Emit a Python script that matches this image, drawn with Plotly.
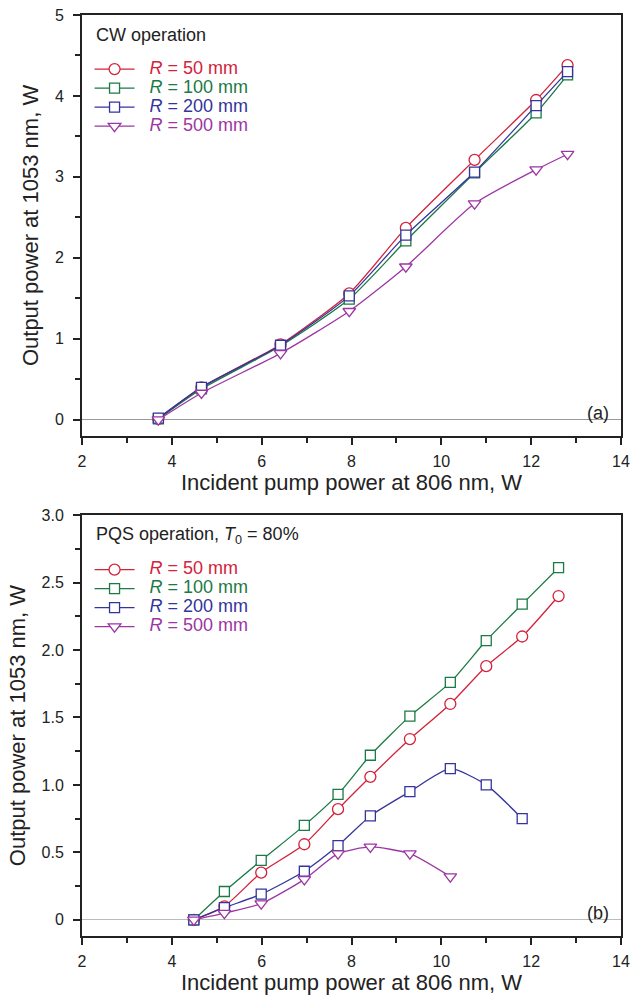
import plotly.graph_objects as go

# ---------------- data ----------------
# Panel (a): CW operation
cw_pump = [3.70, 4.66, 6.42, 7.95, 9.21, 10.74, 12.11, 12.81]
cw_r50 = [0.01, 0.40, 0.93, 1.56, 2.37, 3.21, 3.95, 4.38]
cw_r100 = [0.01, 0.38, 0.91, 1.49, 2.21, 3.05, 3.79, 4.26]
cw_r200 = [0.02, 0.40, 0.92, 1.53, 2.28, 3.06, 3.88, 4.30]
cw_r500 = [0.00, 0.33, 0.82, 1.34, 1.89, 2.67, 3.09, 3.28]

# Panel (b): PQS operation, T0 = 80%
pqs_pump = [4.49, 5.17, 5.99, 6.95, 7.70, 8.42, 9.30, 10.20, 11.00, 11.80, 12.61]
pqs_r50 = [0.00, 0.10, 0.35, 0.56, 0.82, 1.06, 1.34, 1.60, 1.88, 2.10, 2.40]
pqs_r100 = [0.00, 0.21, 0.44, 0.70, 0.93, 1.22, 1.51, 1.76, 2.07, 2.34, 2.61]
pqs_r200 = [0.00, 0.09, 0.19, 0.36, 0.55, 0.77, 0.95, 1.12, 1.00, 0.75]
pqs_r500 = [0.00, 0.05, 0.12, 0.30, 0.49, 0.54, 0.49, 0.32]

series_names = ["<i>R</i> = 50 mm", "<i>R</i> = 100 mm", "<i>R</i> = 200 mm", "<i>R</i> = 500 mm"]
colors = ["#d3223a", "#1b7a46", "#34349c", "#9c36a2"]
symbols = ["circle", "square", "square", "triangle-down"]
msizes = [11, 10, 10, 11]

top_y_ticks = [0, 1, 2, 3, 4, 5]
bot_y_ticks = [0, 0.5, 1.0, 1.5, 2.0, 2.5, 3.0]
bot_y_text = ["0", "0.5", "1.0", "1.5", "2.0", "2.5", "3.0"]
x_ticks = [2, 4, 6, 8, 10, 12, 14]

FONT = "Liberation Sans, Arial, sans-serif"

fig = go.Figure()

def add_panel(xs, ys_list, xa, ya, legend):
    for i, ys in enumerate(ys_list):
        fig.add_trace(go.Scatter(
            x=xs[:len(ys)], y=ys, xaxis=xa, yaxis=ya,
            mode="lines+markers",
            name=f"<span style='color:{colors[i]};font-size:18px'>&nbsp;&nbsp;{series_names[i]}</span>",
            legend=legend,
            line=dict(color=colors[i], width=1.3, shape="spline", smoothing=0.6),
            marker=dict(symbol=symbols[i], size=msizes[i], color="white",
                        line=dict(color=colors[i], width=1.3)),
        ))

add_panel(cw_pump, [cw_r50, cw_r100, cw_r200, cw_r500], "x", "y", "legend")
add_panel(pqs_pump, [pqs_r50, pqs_r100, pqs_r200, pqs_r500], "x2", "y2", "legend2")

axis_common = dict(
    showline=True, linecolor="#222", linewidth=2, mirror=True,
    ticks="outside", ticklen=7, tickwidth=1.5, tickcolor="#222",
    showgrid=False, automargin=False, ticklabeloverflow="allow",
    tickfont=dict(family=FONT, size=16, color="#222"),
    title_font=dict(family=FONT, size=22, color="#222"),
)

xaxis_cfg = dict(axis_common, range=[2, 14], tickvals=x_ticks,
                 minor=dict(ticks="outside", dtick=1, ticklen=5, tickwidth=1.5, tickcolor="#222"),
                 zeroline=False, ticklabelstandoff=3,
                 title=dict(text="Incident pump power at 806 nm, W", standoff=1))

yaxis_extra = dict(ticklabelstandoff=6,
                   title=dict(text="Output power at 1053 nm, W", standoff=10))

legend_common = dict(
    bgcolor="rgba(0,0,0,0)", borderwidth=0,
    font=dict(family=FONT, size=12),
    tracegroupgap=0, itemwidth=40,
    xanchor="left", yanchor="top",
)

fig.update_layout(
    width=634, height=996,
    margin=dict(l=82, r=13, t=15, b=60),
    paper_bgcolor="white", plot_bgcolor="white",
    font=dict(family=FONT, color="#222"),
    xaxis=dict(xaxis_cfg, anchor="y", domain=[0, 1]),
    yaxis=dict(axis_common, **yaxis_extra, anchor="x", domain=[0.543, 1], range=[-0.2, 5],
               tickvals=top_y_ticks,
               minor=dict(ticks="outside", dtick=0.5, ticklen=5, tickwidth=1.5, tickcolor="#222"),
               zeroline=True, zerolinecolor="#999", zerolinewidth=1),
    xaxis2=dict(xaxis_cfg, anchor="y2", domain=[0, 1]),
    yaxis2=dict(axis_common, **yaxis_extra, anchor="x2", domain=[0, 0.457], range=[-0.12, 3.0],
                tickvals=bot_y_ticks, ticktext=bot_y_text,
                minor=dict(ticks="outside", dtick=0.25, ticklen=5, tickwidth=1.5, tickcolor="#222"),
                zeroline=True, zerolinecolor="#bbb", zerolinewidth=1),
    legend=dict(legend_common, x=0.014, y=0.957),
    legend2=dict(legend_common, x=0.014, y=0.4135),
    annotations=[
        dict(text="CW operation", xref="paper", yref="paper", x=0.022, y=0.991,
             xanchor="left", yanchor="top", showarrow=False,
             font=dict(family=FONT, size=18, color="#222")),
        dict(text="(a)", xref="paper", yref="paper", x=0.982, y=0.568,
             xanchor="right", yanchor="middle", showarrow=False,
             font=dict(family=FONT, size=18, color="#222")),
        dict(text="PQS operation, <i>T</i><sub>0</sub> = 80%", xref="paper", yref="paper",
             x=0.022, y=0.45, xanchor="left", yanchor="top", showarrow=False,
             font=dict(family=FONT, size=18, color="#222")),
        dict(text="(b)", xref="paper", yref="paper", x=0.982, y=0.025,
             xanchor="right", yanchor="middle", showarrow=False,
             font=dict(family=FONT, size=18, color="#222")),
    ],
)

fig.write_html("out.html", config={"displayModeBar": False},
               post_script="document.body.style.margin='0';")
